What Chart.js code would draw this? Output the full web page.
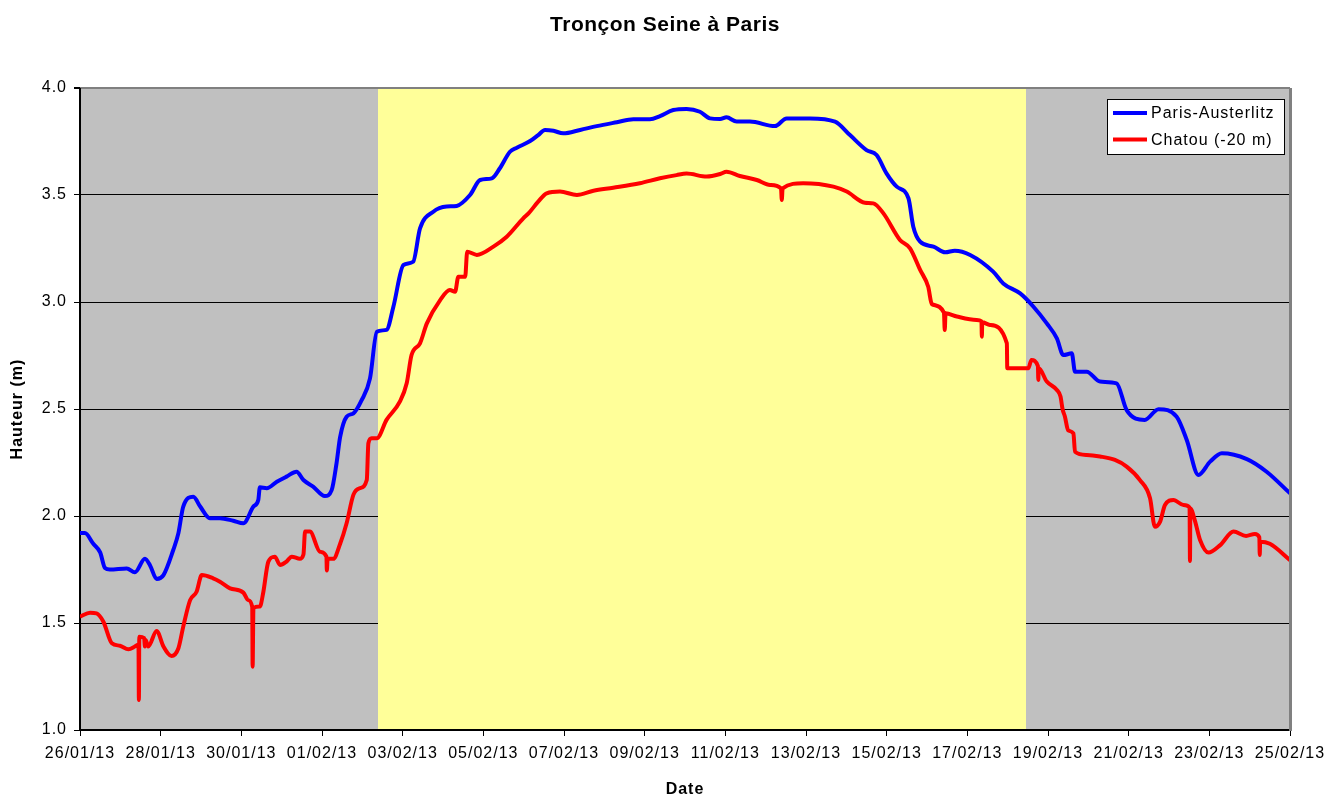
<!DOCTYPE html>
<html>
<head>
<meta charset="utf-8">
<script src="https://cdn.jsdelivr.net/npm/chart.js@4.4.1/dist/chart.umd.min.js"></script>
<style>html,body{margin:0;padding:0;background:#fff}canvas{display:block}</style>
</head>
<body>
<canvas id="c" width="1330" height="796"></canvas>
<script>
// ---- data (x = days since 26/01/13 00:00, y = height in m) ----
const chartTitle = 'Tronçon Seine à Paris';
const xAxisTitle = 'Date';
const yAxisTitle = 'Hauteur (m)';
const xTickLabels = ['26/01/13','28/01/13','30/01/13','01/02/13','03/02/13','05/02/13','07/02/13','09/02/13',
  '11/02/13','13/02/13','15/02/13','17/02/13','19/02/13','21/02/13','23/02/13','25/02/13'];
const yTickLabels = ['1.0','1.5','2.0','2.5','3.0','3.5','4.0'];
const highlightStart = 7.39;   // days
const highlightEnd = 23.465;   // days

const parisLabel = 'Paris-Austerlitz';
const parisDays = [0.00,0.12,0.33,0.50,0.62,0.74,1.16,1.36,1.61,1.74,1.90,2.07,2.31,2.44,2.56,2.81,2.98,3.22,3.47,3.80,
  4.05,4.30,4.42,4.46,4.63,4.88,5.12,5.37,5.54,5.78,6.07,6.24,6.36,6.45,6.61,6.78,6.98,7.19,7.36,7.60,
  7.77,8.02,8.26,8.43,8.76,9.09,9.34,9.67,9.92,10.21,10.41,10.66,10.83,11.16,11.36,11.53,11.74,11.98,12.40,12.81,
  13.31,13.72,14.13,14.38,14.71,15.04,15.37,15.62,15.87,16.03,16.28,16.61,17.23,17.52,18.10,18.72,19.09,19.50,19.75,20.00,
  20.25,20.54,20.66,20.83,21.16,21.45,21.69,22.07,22.64,22.89,23.31,23.64,23.97,24.22,24.38,24.59,24.67,24.96,25.29,25.70,
  25.95,26.40,26.74,27.19,27.44,27.73,28.02,28.31,28.93,29.42,30.00];
const parisHeights = [1.92,1.92,1.87,1.83,1.757,1.75,1.755,1.737,1.80,1.768,1.706,1.724,1.84,1.92,2.044,2.09,2.044,1.99,1.99,1.978,
  1.966,2.044,2.075,2.134,2.13,2.16,2.184,2.207,2.168,2.137,2.093,2.121,2.246,2.37,2.464,2.48,2.54,2.643,2.861,2.87,
  2.978,3.173,3.188,3.344,3.422,3.446,3.449,3.50,3.57,3.578,3.625,3.702,3.721,3.752,3.78,3.804,3.80,3.788,3.804,3.822,
  3.84,3.854,3.854,3.869,3.897,3.902,3.889,3.858,3.855,3.863,3.843,3.843,3.822,3.858,3.858,3.843,3.78,3.71,3.687,3.60,
  3.539,3.485,3.352,3.282,3.259,3.232,3.24,3.22,3.142,3.087,3.04,2.978,2.90,2.83,2.752,2.76,2.674,2.674,2.628,2.62,
  2.495,2.449,2.499,2.464,2.355,2.192,2.254,2.293,2.266,2.207,2.106];

const chatouLabel = 'Chatou (-20 m)';
const chatouDays = [0.00,0.25,0.41,0.58,0.79,0.99,1.20,1.36,1.45,1.46,1.47,1.59,1.61,1.63,1.69,1.90,2.07,2.27,2.44,2.56,
  2.73,2.89,3.02,3.30,3.47,3.72,4.05,4.17,4.27,4.28,4.30,4.46,4.54,4.67,4.83,4.96,5.12,5.25,5.45,5.54,
  5.58,5.70,5.95,6.11,6.12,6.14,6.28,6.45,6.61,6.78,6.94,7.11,7.15,7.23,7.36,7.60,7.93,8.10,8.22,8.43,
  8.60,8.93,9.17,9.30,9.38,9.55,9.60,9.84,10.25,10.58,10.99,11.12,11.36,11.57,11.90,12.32,12.73,13.22,13.88,14.38,
  14.79,15.04,15.54,15.87,16.03,16.36,16.78,17.11,17.38,17.40,17.42,17.93,18.68,19.01,19.46,19.67,19.92,20.33,20.58,20.83,
  21.03,21.12,21.42,21.44,21.46,21.74,22.23,22.35,22.36,22.37,22.56,22.98,22.99,23.51,23.59,23.75,23.76,23.77,23.97,24.22,
  24.31,24.36,24.42,24.50,24.63,24.67,24.96,25.29,25.66,25.95,26.28,26.53,26.65,26.78,26.90,27.11,27.36,27.51,27.52,27.53,
  27.64,27.77,27.98,28.27,28.60,28.91,29.13,29.24,29.25,29.26,29.50,30.00];
const chatouHeights = [1.53,1.548,1.545,1.506,1.405,1.394,1.377,1.39,1.40,1.14,1.436,1.43,1.39,1.42,1.39,1.463,1.39,1.346,1.382,1.483,
  1.607,1.646,1.724,1.709,1.693,1.662,1.642,1.607,1.575,1.296,1.569,1.577,1.639,1.787,1.81,1.771,1.787,1.81,1.80,1.82,
  1.927,1.927,1.833,1.81,1.745,1.80,1.80,1.87,1.966,2.10,2.13,2.168,2.34,2.363,2.363,2.449,2.534,2.62,2.752,2.807,
  2.90,3.009,3.056,3.048,3.118,3.118,3.235,3.22,3.259,3.305,3.391,3.414,3.469,3.508,3.516,3.50,3.52,3.534,3.555,3.578,
  3.593,3.60,3.586,3.598,3.609,3.589,3.57,3.547,3.531,3.477,3.531,3.555,3.539,3.516,3.464,3.461,3.414,3.29,3.251,3.15,
  3.071,2.99,2.95,2.869,2.947,2.932,2.916,2.91,2.838,2.905,2.893,2.807,2.69,2.69,2.729,2.70,2.636,2.69,2.628,2.589,
  2.558,2.50,2.464,2.40,2.386,2.30,2.285,2.278,2.262,2.231,2.168,2.083,1.95,1.974,2.051,2.075,2.051,2.04,1.79,2.035,
  1.98,1.888,1.829,1.864,1.927,1.907,1.916,1.90,1.818,1.88,1.87,1.794];

// ---- build ----
const toPoints = (xs, ys) => xs.map((x, i) => ({x: x, y: ys[i]}));
const FONT = '"Liberation Sans", Arial, sans-serif';

const bgPlugin = {
  id: 'bg',
  beforeDraw(chart) {
    const {ctx, chartArea: a} = chart;
    ctx.save();
    ctx.fillStyle = '#C0C0C0';
    ctx.fillRect(a.left, a.top, a.right - a.left, a.bottom - a.top);
    // title
    ctx.letterSpacing = '0.5px';
    ctx.fillStyle = '#000';
    ctx.font = 'bold 21px ' + FONT;
    ctx.textAlign = 'center';
    ctx.textBaseline = 'middle';
    ctx.fillText(chartTitle, chart.width / 2, 25);
    ctx.restore();
    ctx.letterSpacing = '1px';
  },
  beforeDatasetsDraw(chart) {
    const {ctx, chartArea: a, scales: {x}} = chart;
    const x0 = Math.round(x.getPixelForValue(highlightStart));
    const x1 = Math.round(x.getPixelForValue(highlightEnd));
    ctx.save();
    ctx.fillStyle = '#FFFF99';
    ctx.fillRect(x0, a.top + 1, x1 - x0, a.bottom - a.top - 2);
    ctx.restore();
  },
  afterDatasetsDraw(chart) {
    const {ctx, chartArea: a} = chart;
    ctx.save();
    ctx.strokeStyle = '#808080';
    ctx.lineWidth = 3;
    ctx.beginPath();
    ctx.moveTo(a.right + 0.5, a.top);
    ctx.lineTo(a.right + 0.5, a.bottom + 1);
    ctx.stroke();
    ctx.lineWidth = 1;
    ctx.beginPath();
    ctx.moveTo(a.left, a.top - 0.5);
    ctx.lineTo(a.right, a.top - 0.5);
    ctx.stroke();
    // legend
    const lx = 1107, ly = 99, lw = 177, lh = 55;
    ctx.fillStyle = '#FFFFFF';
    ctx.fillRect(lx, ly, lw, lh);
    ctx.strokeStyle = '#000';
    ctx.lineWidth = 1;
    ctx.strokeRect(lx + 0.5, ly + 0.5, lw, lh);
    ctx.font = '16px ' + FONT;
    ctx.textBaseline = 'middle';
    ctx.textAlign = 'left';
    ctx.letterSpacing = '1px';
    chart.data.datasets.forEach((ds, i) => {
      const yy = ly + 14 + i * 26.5;
      ctx.strokeStyle = ds.borderColor;
      ctx.lineWidth = 4;
      ctx.beginPath();
      ctx.moveTo(lx + 6, yy);
      ctx.lineTo(lx + 40, yy);
      ctx.stroke();
      ctx.fillStyle = '#000';
      ctx.fillText(ds.label, lx + 44, yy + 1);
    });
    ctx.restore();
  }
};

new Chart(document.getElementById('c'), {
  type: 'line',
  data: {
    datasets: [
      {label: parisLabel, data: toPoints(parisDays, parisHeights), borderColor: '#0000FF', backgroundColor: '#0000FF',
       borderWidth: 4, pointRadius: 0, cubicInterpolationMode: 'monotone', fill: false},
      {label: chatouLabel, data: toPoints(chatouDays, chatouHeights), borderColor: '#FF0000', backgroundColor: '#FF0000',
       borderWidth: 4, pointRadius: 0, cubicInterpolationMode: 'monotone', fill: false}
    ]
  },
  options: {
    responsive: false,
    animation: false,
    devicePixelRatio: 1,
    layout: {padding: {left: 0, right: 0, top: 88, bottom: 0}},
    plugins: {
      legend: {display: false},
      tooltip: {enabled: false},
      title: {display: false}
    },
    scales: {
      x: {
        type: 'linear', min: 0, max: 30,
        afterFit: s => { s.height = 66; s.paddingRight = 40; },
        ticks: {stepSize: 2, autoSkip: false, maxRotation: 0, color: '#000', padding: 8,
          font: {family: FONT, size: 16},
          callback: v => { const i = Math.round(v / 2); return Math.abs(v - 2 * i) < 1e-6 ? xTickLabels[i] : ''; }},
        grid: {drawOnChartArea: false, drawTicks: true, tickLength: 6, color: '#000', tickColor: '#000'},
        border: {display: true, color: '#000', width: 2},
        title: {display: true, text: xAxisTitle, color: '#000', font: {family: FONT, size: 16, weight: 'bold', lineHeight: 0.8},
          padding: {top: 0, bottom: 0}}
      },
      y: {
        type: 'linear', min: 1, max: 4,
        afterFit: s => { s.width = 80; },
        ticks: {stepSize: 0.5, color: '#000', padding: 7, font: {family: FONT, size: 16},
          callback: v => { const i = Math.round((v - 1) / 0.5); return yTickLabels[i]; }},
        grid: {drawTicks: true, tickLength: 6, tickColor: '#000',
          color: c => (c.tick && c.tick.value === 4) ? '#808080' : '#000',
          lineWidth: c => (c.tick && c.tick.value === 4) ? 2 : 1},
        border: {display: true, color: '#000', width: 2},
        title: {display: true, text: yAxisTitle, color: '#000', font: {family: FONT, size: 16, weight: 'bold', lineHeight: 1},
          padding: {top: 10, bottom: 0}}
      }
    }
  },
  plugins: [bgPlugin]
});
</script>
</body>
</html>
